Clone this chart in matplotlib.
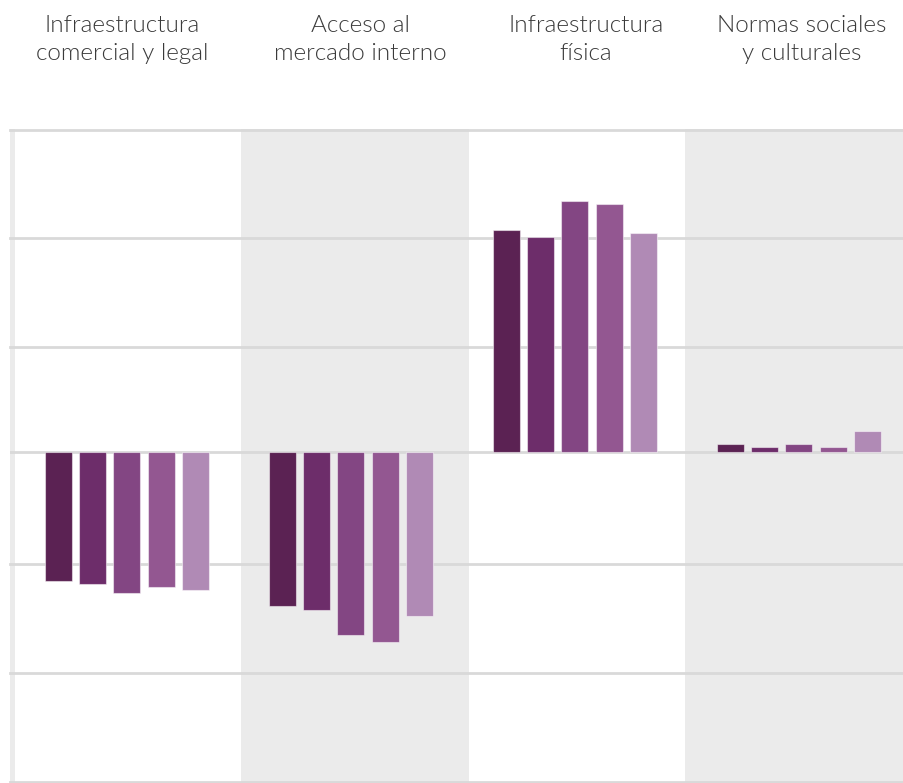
import numpy as np
from matplotlib import pyplot as plt

# Data (arbitrary units, one gridline step = 1)
categories = [
    "Infraestructura\ncomercial y legal",
    "Acceso al\nmercado interno",
    "Infraestructura\nfísica",
    "Normas sociales\ny culturales",
]
series_1 = [-1.19, -1.42, 2.04, 0.076]
series_2 = [-1.21, -1.45, 1.98, 0.049]
series_3 = [-1.30, -1.68, 2.31, 0.076]
series_4 = [-1.24, -1.75, 2.28, 0.049]
series_5 = [-1.27, -1.51, 2.01, 0.193]

colors = ["#5b2253", "#6d2d6a", "#834683", "#935791", "#b08ab5"]
band_color = "#ebebeb"
grid_color = "#d9d9d9"
text_color = "#3a3a3a"

W, H = 904, 783
fig = plt.figure(figsize=(W / 100, H / 100), dpi=100)
ax = fig.add_axes([10 / W, 1 / H, 1 - 10 / W, (782 - 129) / H])

all_series = [series_1, series_2, series_3, series_4, series_5]
x = np.arange(len(categories))
bar_w = 0.1205
step = 0.1536

ax.set_xlim(-0.522, 3.469)
ax.set_ylim(-3.036, 2.971)

# background panels (edges in axis units, as laid out in the original)
band_edges = [-0.6, -0.5, 0.509, 1.527, 2.491, 3.6]
for i in range(len(band_edges) - 1):
    if i % 2 == 0:
        ax.axvspan(band_edges[i], band_edges[i + 1], color=band_color,
                   lw=0, zorder=0)

# gridlines
for k in [-3, -2, -1, 1, 2, 3]:
    ax.axhline(k - 0.035, color=grid_color, lw=2.0, zorder=1, clip_on=False)
ax.axhline(0, color=grid_color, lw=2.0, zorder=1)

for j, (vals, c) in enumerate(zip(all_series, colors)):
    ax.bar(x + (j - 2) * step, vals, width=bar_w, color=c,
           edgecolor=(1, 1, 1, 0.5), linewidth=0.8, zorder=2)

for s in ax.spines.values():
    s.set_visible(False)
ax.set_xticks([])
ax.set_yticks([])

# category headers
label_px = [122.5, 360.5, 586, 801.5]
for lab, px in zip(categories, label_px):
    fig.text(px / W, 1 - 39.5 / H, lab, ha="center", va="center",
             fontsize=17.5, family="Lato", fontweight=300,
             color=text_color, linespacing=1.42)

fig.savefig("out.png", dpi=100)
